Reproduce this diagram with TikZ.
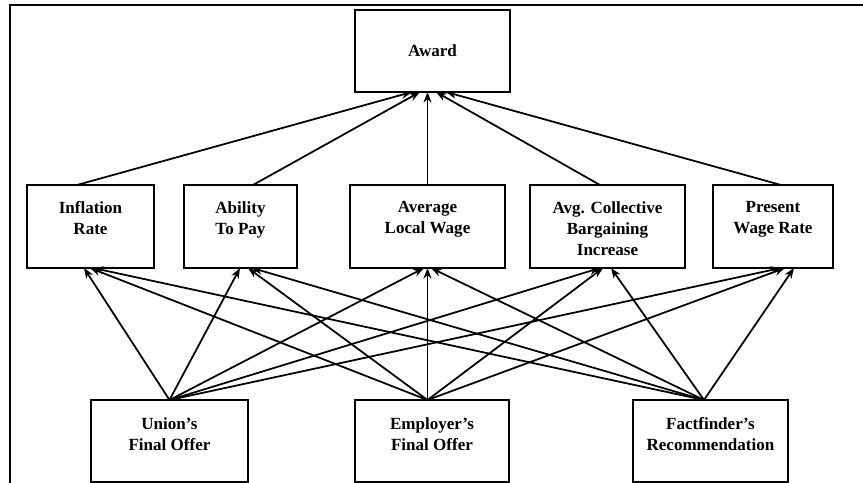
\documentclass[tikz,border=0pt]{standalone}
\usepackage{fontspec}
\setmainfont{Liberation Serif}
\usetikzlibrary{arrows.meta, positioning}
\tikzset{%
	factor box/.style={
		draw,
		line width=1.1pt,
		rectangle,
		anchor=north west,
		inner sep=0pt,
		outer sep=0pt,
		minimum height=1.66cm
	},
	factor label/.style={
		align=center,
		inner sep=0pt,
		font=\bfseries\fontsize{9.7}{12}\selectfont
	},
	edge arrow/.style={
		draw,
		line width=1pt,
		-{Stealth[length=6pt,width=4.5pt]}
	},
}
\begin{document}
\begin{tikzpicture}[x=0.02cm, y=-0.02cm]
			\useasboundingbox (0,0) rectangle (863,483);
			
			% frame of the scan
			\draw[line width=0.9pt] (863,5) -- (10,5) -- (10,483);
			
			% top
			\node[factor box, minimum width=3.1cm, minimum height=1.64cm, factor label] (award) at (355,10) {Award};
			
			% criteria
			\node[factor box, minimum width=2.54cm] (infl) at (27,185) {};
			\node[factor box, minimum width=2.26cm] (abil) at (184,185) {};
			\node[factor box, minimum width=3.1cm] (avgw) at (350,185) {};
			\node[factor box, minimum width=3.1cm] (acbi) at (530,185) {};
			\node[factor box, minimum width=2.4cm] (pwr) at (713,185) {};
			
			\node[factor label, below=0.32cm of infl.north] {Inflation\\Rate};
			\node[factor label, below=0.32cm of abil.north] {Ability\\To Pay};
			\node[factor label, below=0.32cm of avgw.north] {Average\\Local Wage};
			\node[factor label, below=0.32cm of acbi.north] {Avg. Collective\\Bargaining\\Increase};
			\node[factor label, below=0.32cm of pwr.north] {Present\\Wage Rate};
			
			% alternatives
			\node[factor box, minimum width=3.14cm, minimum height=1.64cm] (union) at (91,400) {};
			\node[factor box, minimum width=3.08cm, minimum height=1.64cm] (empl) at (355,400) {};
			\node[factor box, minimum width=3.1cm, minimum height=1.64cm] (fact) at (633,400) {};
			
			\node[factor label, below=0.34cm of union.north] {Union’s\\Final Offer};
			\node[factor label, below=0.34cm of empl.north] {Employer’s\\Final Offer};
			\node[factor label, below=0.34cm of fact.north] {Factfinder’s\\Recommendation};
			
			% criteria to award
			\draw[edge arrow] ([xshift=-13.5*0.02cm]infl.north) -- ([xshift=-20.5*0.02cm]award.south);
			\draw[edge arrow] ([xshift=12.5*0.02cm]abil.north) -- ([xshift=-12.5*0.02cm]award.south);
			\draw[edge arrow] (avgw.north) -- (avgw.north |- award.south);
			\draw[edge arrow] ([xshift=-7.5*0.02cm]acbi.north) -- ([xshift=3.5*0.02cm]award.south);
			\draw[edge arrow] ([xshift=8*0.02cm]pwr.north) -- ([xshift=13.5*0.02cm]award.south);
			
			% alternatives to criteria
			\foreach \dst/\dx in {infl/-6.5, abil/-0.5, avgw/-3.5, acbi/-7.5, pwr/8}
				\draw[edge arrow] (union.north) -- ([xshift=\dx*0.02cm]\dst.south);
			\foreach \dst/\dx in {infl/-0.5, abil/7.5, avgw/0, acbi/-4.5, pwr/12}
				\draw[edge arrow] ([xshift=-4.5*0.02cm]empl.north) -- ([xshift=\dx*0.02cm]\dst.south);
			\foreach \dst/\dx in {infl/2.5, abil/11.5, avgw/3.5, acbi/3.5, pwr/21}
				\draw[edge arrow] ([xshift=-6.5*0.02cm]fact.north) -- ([xshift=\dx*0.02cm]\dst.south);
			
		\end{tikzpicture}
\end{document}
